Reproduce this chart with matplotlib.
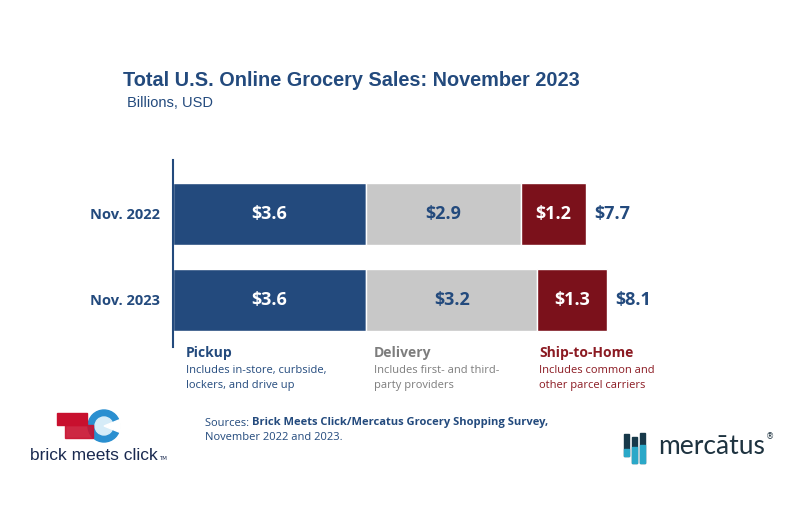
import numpy as np
import matplotlib.pyplot as plt
from matplotlib.patches import Rectangle, Circle, Wedge

# data
periods = ["Nov. 2022", "Nov. 2023"]
pickup = [3.6, 3.6]
delivery = [2.9, 3.2]
ship_home = [1.2, 1.3]
totals = [7.7, 8.1]

segments = ["Pickup", "Delivery", "Ship-to-Home"]
seg_notes = ["Includes in-store, curbside,\nlockers, and drive up",
             "Includes first- and third-\nparty providers",
             "Includes common and\nother parcel carriers"]

NAVY = "#234a7d"
GRAY = "#c8c8c8"
RED = "#7b111b"
seg_colors = [NAVY, GRAY, RED]
seg_text = [NAVY, "#7d7d7d", "#8b1a22"]
val_text = ["white", NAVY, "white"]

W, H = 800, 528
fig = plt.figure(figsize=(8, 5.28), dpi=100)
fig.patch.set_facecolor("white")

BOLD = ["Open Sans", "DejaVu Sans"]

# axes placed in pixel units of the picture
ax_l, ax_r, ax_t, ax_b = 173, 700, 160, 347
ax = fig.add_axes([ax_l / W, 1 - ax_b / H, (ax_r - ax_l) / W, (ax_b - ax_t) / H])
px_per_unit = 53.6
ax.set_xlim(0, (ax_r - ax_l) / px_per_unit)
ax.set_ylim(1.547, -0.628)

y = np.arange(len(periods))
left = np.zeros(len(periods))
series = [pickup, delivery, ship_home]
for vals, col, tcol in zip(series, seg_colors, val_text):
    bars = ax.barh(y, vals, left=left, height=0.72, color=col,
                   edgecolor="white", linewidth=1)
    for b, v in zip(bars, vals):
        ax.text(b.get_x() + b.get_width() / 2, b.get_y() + b.get_height() / 2,
                f"${v:.1f}", ha="center", va="center", color=tcol,
                fontsize=13, fontweight="bold", family=BOLD)
    left = left + np.array(vals)

for yi, tot, end in zip(y, totals, left):
    ax.text(end + 0.16, yi, f"${tot:.1f}", ha="left", va="center",
            color=NAVY, fontsize=13, fontweight="bold", family=BOLD)

ax.set_yticks(y)
ax.set_yticklabels(periods, fontsize=10.5, fontweight="bold", color=NAVY,
                   family=BOLD)
ax.tick_params(axis="y", length=0, pad=9)
ax.set_xticks([])
for s in ["top", "right", "bottom"]:
    ax.spines[s].set_visible(False)
ax.spines["left"].set_color(NAVY)
ax.spines["left"].set_linewidth(1.5)
ax.patch.set_alpha(0)

# title
fig.text(123 / W, 1 - 80 / H, "Total U.S. Online Grocery Sales: November 2023",
         fontsize=14.3, fontweight="bold", color=NAVY,
         family="Liberation Sans", va="center")
fig.text(127 / W, 1 - 103 / H, "Billions, USD", fontsize=10.5, color=NAVY,
         family="Liberation Sans", va="center")

# segment legend below the bars
seg_x = [186, 374, 539]
for name, note, xx, c in zip(segments, seg_notes, seg_x, seg_text):
    fig.text(xx / W, 1 - 353 / H, name, fontsize=10, fontweight="bold",
             color=c, family=BOLD, va="center")
    fig.text(xx / W, 1 - 378 / H, note, fontsize=8, color=c,
             family=BOLD, va="center", linespacing=1.55)

# sources
t1 = fig.text(205 / W, 1 - 423 / H, "Sources: ", fontsize=8, color=NAVY,
              family=BOLD, va="center")
ax.annotate("Brick Meets Click/Mercatus Grocery Shopping Survey,",
            xy=(1, 0.5), xycoords=t1, va="center", ha="left",
            fontsize=8, color=NAVY, family=BOLD, fontweight="bold",
            annotation_clip=False)
fig.text(205 / W, 1 - 437 / H, "November 2022 and 2023.", fontsize=8,
         color=NAVY, family=BOLD, va="center")

# brick meets click logo (simple shapes)
lax = fig.add_axes([0, 0, 1, 1], zorder=-1)
lax.set_xlim(0, W)
lax.set_ylim(H, 0)
lax.axis("off")
lax.add_patch(Circle((104, 426), 16, color="#2a8fd0"))
lax.add_patch(Circle((104, 426), 9, color="#d6ecf8"))
lax.add_patch(Wedge((104, 426), 17, -22, 22, color="white"))
lax.add_patch(Rectangle((57, 413), 30, 12, color="#c8102e"))
lax.add_patch(Rectangle((65, 425), 28, 13, color="#c8102e", alpha=0.9))
lax.text(30, 456, "brick meets click", fontsize=12.5, color="#1a2a50",
         family="Liberation Sans", va="center")
lax.text(159, 459, "TM", fontsize=4, color="#1a2a50", va="center")

# mercatus logo
bars_logo = [(624, 434, 5, 22), (632, 437, 5, 26), (640, 433, 5, 30)]
for bx, by, bw, bh in bars_logo:
    lax.add_patch(Rectangle((bx, by), bw, bh, color="#17394a"))
lax.add_patch(Rectangle((624, 449), 5, 7, color="#2aa8c8"))
lax.add_patch(Rectangle((632, 447), 5, 16, color="#2aa8c8"))
lax.add_patch(Rectangle((640, 445), 5, 18, color="#2aa8c8"))
lax.text(658, 447, "mercātus", fontsize=19, color="#1e3340",
         family="Lato", va="center")
lax.text(766, 437, "®", fontsize=6, color="#1e3340", va="center")

fig.savefig("out.png", dpi=100)
